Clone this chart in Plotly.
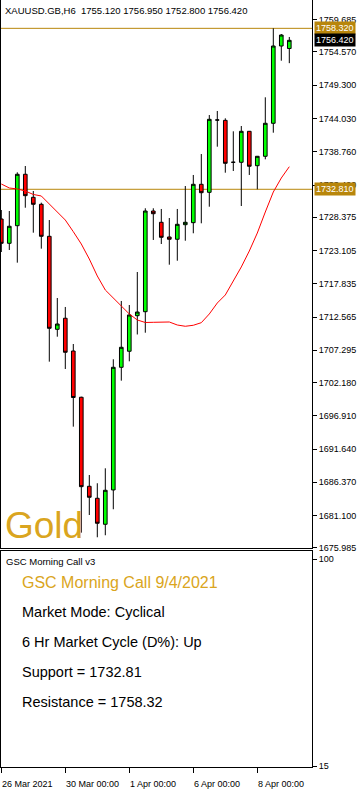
import plotly.graph_objects as go

# ---------------- data ----------------
symbol_header = "XAUUSD.GB,H6  1755.120 1756.950 1752.800 1756.420"
candle_idx = list(range(37))
open_ = [1728.10, 1724.25, 1727.04, 1735.19, 1731.54, 1730.43, 1725.36, 1710.62, 1712.37, 1707.18,
         1699.85, 1685.74, 1683.84, 1679.72, 1685.16, 1704.60, 1707.14, 1712.78, 1713.41, 1729.37,
         1727.58, 1725.25, 1724.89, 1727.20, 1727.52, 1733.60, 1732.33, 1743.79, 1743.74, 1737.09,
         1737.09, 1742.00, 1736.55, 1738.04, 1743.27, 1755.52, 1755.12]
high = [1729.53, 1729.37, 1735.50, 1736.50, 1732.54, 1730.69, 1727.94, 1715.58, 1714.16, 1708.29,
        1699.94, 1687.53, 1686.22, 1688.59, 1705.87, 1715.11, 1714.47, 1719.70, 1729.80, 1729.80,
        1729.69, 1728.26, 1729.69, 1733.33, 1735.08, 1738.40, 1744.58, 1745.22, 1744.06, 1742.00,
        1742.84, 1742.05, 1738.09, 1747.39, 1758.32, 1757.42, 1756.95]
low = [1722.87, 1723.19, 1721.18, 1729.89, 1725.93, 1723.40, 1705.49, 1709.45, 1704.33, 1695.19,
       1678.39, 1681.19, 1677.66, 1677.98, 1682.10, 1702.48, 1705.55, 1709.80, 1710.08, 1724.78,
       1724.14, 1720.86, 1721.49, 1724.66, 1725.84, 1727.42, 1730.05, 1739.56, 1735.44, 1735.71,
       1730.16, 1735.08, 1732.81, 1737.56, 1741.78, 1753.19, 1752.80]
close = [1724.25, 1726.95, 1735.19, 1731.80, 1730.43, 1725.36, 1710.78, 1711.46, 1706.98, 1699.81,
         1685.68, 1684.00, 1679.88, 1685.11, 1704.60, 1707.77, 1712.89, 1713.36, 1729.37, 1728.94,
         1725.20, 1724.89, 1727.26, 1727.58, 1733.60, 1732.27, 1743.90, 1743.79, 1736.93, 1737.09,
         1742.00, 1736.46, 1738.04, 1743.27, 1755.52, 1757.26, 1756.42]
moving_avg = [1733.65, 1733.02, 1732.86, 1732.54, 1731.99, 1731.75, 1730.48, 1729.21, 1727.94, 1726.09,
              1724.14, 1721.76, 1719.07, 1716.85, 1715.58, 1714.32, 1713.05, 1712.10, 1711.70, 1711.73,
              1711.78, 1711.78, 1711.30, 1711.10, 1711.26, 1711.67, 1713.05, 1714.79, 1716.06, 1718.17,
              1720.50, 1723.03, 1725.88, 1729.21, 1732.38, 1734.60, 1736.39]

support = 1732.81
resistance = 1758.32

price_ticks = [1759.685, 1754.570, 1749.300, 1744.030, 1738.760, 1733.490, 1728.375, 1723.105,
               1717.835, 1712.565, 1707.295, 1702.180, 1696.910, 1691.640, 1686.370, 1681.100, 1675.985]
price_tick_labels = ["%.3f" % v for v in price_ticks]

date_tick_pos = [0, 8, 16, 24, 32]
date_tick_labels = ["26 Mar 2021", "30 Mar 00:00", "1 Apr 00:00", "6 Apr 00:00", "8 Apr 00:00"]

osc_ticks = [100, 15]
osc_tick_labels = ["100", "15"]

panel_title = "GSC Morning Call v3"
call_title = "GSC Morning Call 9/4/2021"
call_lines = ["Market Mode: Cyclical", "6 Hr Market Cycle (D%): Up",
              "Support = 1732.81", "Resistance = 1758.32"]

# ---------------- style ----------------
FONT = "Liberation Sans, Arial, sans-serif"
GOLD_LINE = "#B8860B"
GOLD_TEXT = "#DAA520"

W, H = 360, 793
ML, MR, MT, MB = 1, 48, 0, 26
PH = H - MT - MB
main_dom = [(PH - 548) / PH, 1.0]
sub_dom = [0.0, (PH - 551) / PH]
x_range = [-0.0375, 38.8375]

fig = go.Figure()

fig.add_trace(go.Candlestick(
    x=candle_idx, open=open_, high=high, low=low, close=close,
    increasing=dict(fillcolor="#00FF00", line=dict(color="black", width=1)),
    decreasing=dict(fillcolor="#FF0000", line=dict(color="black", width=1)),
    whiskerwidth=0, xaxis="x", yaxis="y", showlegend=False, hoverinfo="skip",
))
fig.add_trace(go.Scatter(
    x=candle_idx, y=moving_avg, mode="lines", line=dict(color="#FF0000", width=1),
    xaxis="x", yaxis="y", showlegend=False, hoverinfo="skip",
))
# empty trace to show lower panel
fig.add_trace(go.Scatter(x=[], y=[], xaxis="x2", yaxis="y2", showlegend=False))

for lvl in (support, resistance):
    fig.add_shape(type="line", xref="x domain", x0=0, x1=1, yref="y", y0=lvl, y1=lvl,
                  line=dict(color=GOLD_LINE, width=1), layer="below")

ann = []
ann.append(dict(text=symbol_header, xref="paper", yref="paper", x=0, y=1, xanchor="left", yanchor="top",
                xshift=2, yshift=-3, showarrow=False, font=dict(family=FONT, size=9.5, color="black")))
ann.append(dict(text="Gold", xref="paper", yref="paper", x=0, y=main_dom[0], xanchor="left", yanchor="bottom",
                xshift=2, yshift=0, showarrow=False, font=dict(family=FONT, size=37, color=GOLD_TEXT)))
# price labels on the axis
for val, bg in ((resistance, GOLD_LINE), (close[-1], "black"), (support, GOLD_LINE)):
    ann.append(dict(text="%.3f" % val, xref="paper", yref="y", x=1, y=val, xanchor="left", yanchor="middle",
                    xshift=2, showarrow=False, bgcolor=bg, borderpad=1,
                    font=dict(family=FONT, size=9, color="white")))
# date labels (left aligned to tick)
for pos, lab in zip(date_tick_pos, date_tick_labels):
    ann.append(dict(text=lab, xref="x2", yref="paper", x=pos, y=0, xanchor="left", yanchor="top",
                    xshift=-1, yshift=-10, showarrow=False, font=dict(family=FONT, size=9, color="black")))
# lower panel texts
def py(pix):
    return (PH - pix) / PH
ann.append(dict(text=panel_title, xref="paper", yref="paper", x=0, y=py(561.7), xanchor="left",
                yanchor="middle", xshift=3, showarrow=False, font=dict(family=FONT, size=9.5, color="black")))
ann.append(dict(text=call_title, xref="paper", yref="paper", x=0, y=py(582.7), xanchor="left",
                yanchor="middle", xshift=19, showarrow=False, font=dict(family=FONT, size=16, color=GOLD_TEXT)))
for txt, pix in zip(call_lines, [611.7, 641.7, 672.3, 702.3]):
    ann.append(dict(text=txt, xref="paper", yref="paper", x=0, y=py(pix), xanchor="left",
                    yanchor="middle", xshift=19, showarrow=False, font=dict(family=FONT, size=14.5, color="black")))

axis_font = dict(family=FONT, size=9, color="black")
fig.update_layout(
    width=W, height=H, margin=dict(l=ML, r=MR, t=MT, b=MB),
    paper_bgcolor="white", plot_bgcolor="white", boxgap=0.35,
    annotations=ann, showlegend=False,
    xaxis=dict(domain=[0, 1], range=x_range, anchor="y", showticklabels=False, ticks="",
               showgrid=False, zeroline=False, showline=True, linecolor="black", linewidth=1,
               rangeslider=dict(visible=False), fixedrange=True),
    yaxis=dict(domain=main_dom, range=[1675.96, 1762.81], side="right", anchor="x",
               tickvals=price_ticks, ticktext=price_tick_labels, ticks="outside", ticklen=4,
               tickcolor="black", showgrid=False, zeroline=False, showline=True, linecolor="black",
               mirror=True, tickfont=axis_font),
    xaxis2=dict(domain=[0, 1], range=x_range, anchor="y2", tickvals=date_tick_pos, showticklabels=False,
                ticks="outside", ticklen=5, tickcolor="black", showgrid=False, zeroline=False,
                showline=True, linecolor="black", mirror=True),
    yaxis2=dict(domain=sub_dom, range=[14.7, 103.3], side="right", anchor="x2",
                tickvals=osc_ticks, ticktext=osc_tick_labels, ticks="outside", ticklen=4,
                tickcolor="black", showgrid=False, zeroline=False, showline=True, linecolor="black",
                mirror=True, tickfont=axis_font),
)

fig.write_html("out.html", config={"displayModeBar": False},
               post_script="document.body.style.margin='0';document.body.style.padding='0';"
                           "document.body.style.overflow='hidden';")
